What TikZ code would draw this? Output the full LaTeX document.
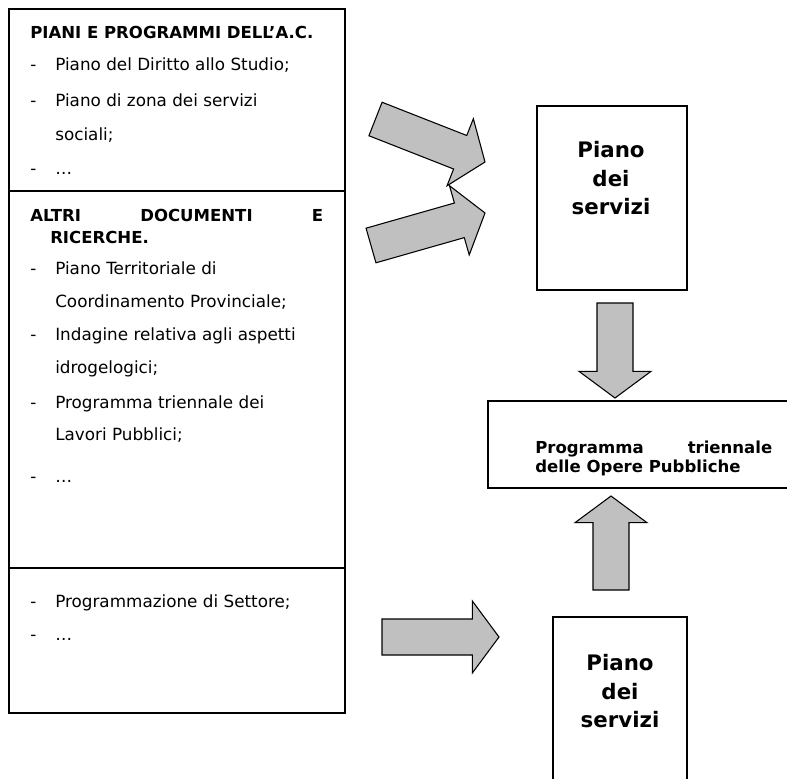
\documentclass[tikz,border=0pt]{standalone}
\usepackage{fontspec}
\setmainfont{DejaVu Sans}
\usetikzlibrary{calc,fit}

\definecolor{grigiofreccia}{RGB}{192,192,192}

% trattino dell'elenco
\newcommand{\trattino}{\makebox[18.75pt][l]{-}}

% freccia piena dalla coda #1 alla punta #2
\newcommand{\freccia}[2]{%
  \coordinate (fb) at ($(#2)!20pt!(#1)$);
  \filldraw[blockarrow]
    ($(#1)!13.5pt!90:(#2)$) -- ($(fb)!13.5pt!90:(#2)$) --
    ($(fb)!27pt!90:(#2)$) -- (#2) -- ($(fb)!27pt!-90:(#2)$) --
    ($(fb)!13.5pt!-90:(#2)$) -- ($(#1)!13.5pt!-90:(#2)$) -- cycle;
}

\begin{document}
\begin{tikzpicture}[
    x=0.75pt, y=-0.75pt,
    box/.style={draw, line width=1pt, inner sep=0pt},
    voce/.style={anchor=base west, inner sep=0pt, font=\fontsize{12.6}{14}\selectfont},
    titolo/.style={voce, font=\fontsize{12.4}{14}\selectfont\bfseries},
    piano/.style={align=center, inner sep=0pt, anchor=north, font=\fontsize{16}{21.4}\selectfont\bfseries},
    blockarrow/.style={fill=grigiofreccia, draw, line width=0.8pt, line join=miter},
]
\clip (0,0) rectangle (787,778);

% colonna di sinistra
\node[box, fit={(9,9) (345,191)}] (piani) {};
\node[box, fit={(9,191) (345,568)}] (altri) {};
\node[box, fit={(9,568) (345,713)}] (settore) {};

\node[titolo] (piani-t) at (30,38) {PIANI E PROGRAMMI DELL’A.C.};
\node[voce] (piani-1) at (30,70) {\trattino Piano del Diritto allo Studio;};
\node[voce] (piani-2) at (30,106) {\trattino Piano di zona dei servizi};
\node[voce] (piani-2b) at (55,140) {sociali;};
\node[voce] (piani-3) at (30,174) {\trattino …};

\node[titolo] (altri-t) at (30,221) {\makebox[219.75pt][s]{ALTRI DOCUMENTI E}};
\node[titolo] (altri-tb) at (50,243) {RICERCHE.};
\node[voce] (altri-1) at (30,274) {\trattino Piano Territoriale di};
\node[voce] (altri-1b) at (55,307) {Coordinamento Provinciale;};
\node[voce] (altri-2) at (30,340) {\trattino Indagine relativa agli aspetti};
\node[voce] (altri-2b) at (55,373) {idrogelogici;};
\node[voce] (altri-3) at (30,408) {\trattino Programma triennale dei};
\node[voce] (altri-3b) at (55,440) {Lavori Pubblici;};
\node[voce] (altri-4) at (30,482) {\trattino …};

\node[voce] (settore-1) at (30,607) {\trattino Programmazione di Settore;};
\node[voce] (settore-2) at (30,640) {\trattino …};

% colonna di destra
\node[box, fit={(537,106) (687,290)}] (servizi1) {};
\node[piano] (servizi1-t) at (611,141) {Piano\\dei\\servizi};

\node[box, fit={(488,401) (800,488)}] (opere) {};
\node[titolo] (opere-t) at (535,453) {\makebox[177.75pt][s]{Programma triennale}};
\node[titolo] (opere-tb) at (535,472) {delle Opere Pubbliche};

\node[box, fit={(553,617) (687,800)}] (servizi2) {};
\node[piano] (servizi2-t) at (620,654) {Piano\\dei\\servizi};

% frecce
\coordinate (f1a) at (375.5,119);  \coordinate (f1b) at (485,162);
\coordinate (f2a) at (371,245.5);  \coordinate (f2b) at (485,213);
\coordinate (f3a) at (615,303);    \coordinate (f3b) at (615,398);
\coordinate (f4a) at (611,590);    \coordinate (f4b) at (611,496);
\coordinate (f5a) at (382,637);    \coordinate (f5b) at (499,637);
\freccia{f1a}{f1b}
\freccia{f2a}{f2b}
\freccia{f3a}{f3b}
\freccia{f4a}{f4b}
\freccia{f5a}{f5b}

\end{tikzpicture}
\end{document}
